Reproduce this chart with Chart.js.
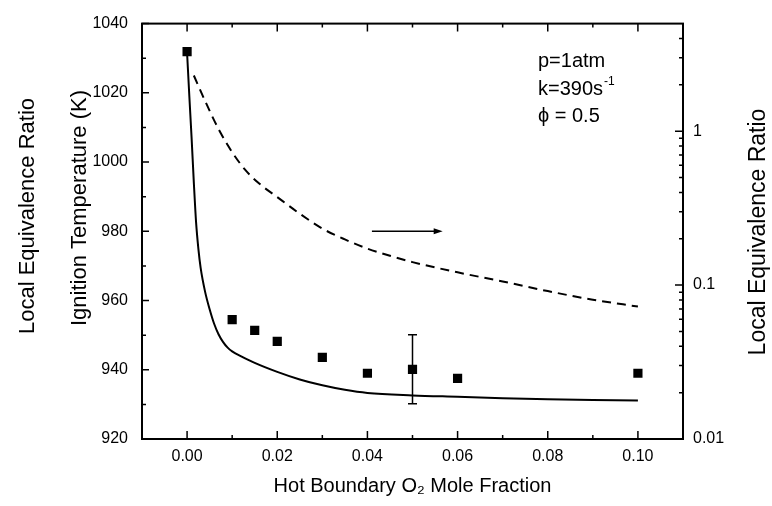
<!DOCTYPE html>
<html><head><meta charset="utf-8">
<script src="https://cdn.jsdelivr.net/npm/chart.js@4"></script>
<style>html,body{margin:0;padding:0;background:#fff}#wrap{width:772px;height:506px}</style>
</head><body><div id="wrap"><canvas id="c" width="772" height="506"></canvas></div>
<script>
// Experimental ignition temperatures (K)
const expX = [0.00, 0.01, 0.015, 0.02, 0.03, 0.04, 0.05, 0.06, 0.10];
const expT = [1031.9, 954.5, 951.4, 948.2, 943.6, 939.0, 940.1, 937.5, 939.0];
// error bar
const errX = [0.05];
const errLow = [930.2];
const errHigh = [950.1];
// computed ignition temperature (solid)
const modelX = [0, 0.0005, 0.001, 0.0015, 0.002, 0.0025, 0.003, 0.004, 0.005, 0.006, 0.007, 0.008, 0.009, 0.010, 0.012, 0.015, 0.02, 0.025, 0.03, 0.035, 0.04, 0.05, 0.06, 0.07, 0.08, 0.09, 0.10];
const modelT = [1031.5, 1019, 1007, 994, 982.5, 975, 969.5, 962.5, 957.5, 953.3, 950.2, 948, 946.4, 945.3, 943.9, 942, 939.4, 937.2, 935.5, 934.2, 933.3, 932.6, 932.2, 931.8, 931.5, 931.3, 931.1];
// local equivalence ratio (dashed, right log axis)
const phiX = [0.0015, 0.004, 0.007, 0.010, 0.013, 0.016, 0.02, 0.025, 0.03, 0.035, 0.04, 0.045, 0.05, 0.06, 0.07, 0.08, 0.09, 0.10];
const phiV = [2.30, 1.57, 1.03, 0.730, 0.556, 0.457, 0.373, 0.291, 0.233, 0.198, 0.1725, 0.155, 0.141, 0.121, 0.1056, 0.0914, 0.0804, 0.0725];
// axis ticks
const xMajor = [0.00, 0.02, 0.04, 0.06, 0.08, 0.10];
const xMinor = [0.01, 0.03, 0.05, 0.07, 0.09];
const yMajor = [920, 940, 960, 980, 1000, 1020, 1040];
const yMinor = [930, 950, 970, 990, 1010, 1030];
const y2Major = [0.01, 0.1, 1];
const y2Minor = [0.02,0.03,0.04,0.05,0.06,0.07,0.08,0.09,0.2,0.3,0.4,0.5,0.6,0.7,0.8,0.9,2,3,4];
// arrow (data coords)
const arrowX = [0.041, 0.0567];
const arrowT = 980;
const notes = ['p=1atm', 'k=390s', '\u03D5 = 0.5'];
const leftOuterTitle = 'Local Equivalence Ratio';
const leftInnerTitle = 'Ignition Temperature (K)';
const rightTitle = 'Local Equivalence Ratio';

const FONT = '"Liberation Sans", Arial, Helvetica, sans-serif';

function vText(ctx, txt, x, y, size) {
  ctx.save();
  ctx.translate(x, y);
  ctx.rotate(-Math.PI / 2);
  ctx.textAlign = 'center'; ctx.textBaseline = 'middle';
  ctx.font = size + 'px ' + FONT;
  ctx.fillText(txt, 0, 0);
  ctx.restore();
}

const deco = {
  id: 'deco',
  afterDatasetsDraw(chart) {
    const {ctx, chartArea: a, scales: {x, y, y2}} = chart;
    ctx.save();
    ctx.strokeStyle = '#000'; ctx.fillStyle = '#000';
    // error bars
    ctx.lineWidth = 1.5;
    errX.forEach((ex, i) => {
      const px = x.getPixelForValue(ex), p1 = y.getPixelForValue(errLow[i]), p2 = y.getPixelForValue(errHigh[i]);
      ctx.beginPath();
      ctx.moveTo(px, p1); ctx.lineTo(px, p2);
      ctx.moveTo(px - 4.5, p1); ctx.lineTo(px + 4.5, p1);
      ctx.moveTo(px - 4.5, p2); ctx.lineTo(px + 4.5, p2);
      ctx.stroke();
    });
    // arrow
    const ax1 = x.getPixelForValue(arrowX[0]), ax2 = x.getPixelForValue(arrowX[1]), ay = y.getPixelForValue(arrowT);
    ctx.lineWidth = 1.5;
    ctx.beginPath(); ctx.moveTo(ax1, ay); ctx.lineTo(ax2 - 6, ay); ctx.stroke();
    ctx.beginPath(); ctx.moveTo(ax2, ay); ctx.lineTo(ax2 - 9, ay - 3); ctx.lineTo(ax2 - 9, ay + 3); ctx.closePath(); ctx.fill();
    // frame
    ctx.lineWidth = 2;
    ctx.strokeRect(a.left, a.top, a.right - a.left, a.bottom - a.top);
    ctx.lineWidth = 1.5;
    ctx.beginPath();
    const tk = (arr, len, fn) => arr.forEach(v => fn(v, len));
    tk(xMajor, 8, (v, l) => { const p = x.getPixelForValue(v); ctx.moveTo(p, a.bottom); ctx.lineTo(p, a.bottom - l); ctx.moveTo(p, a.top); ctx.lineTo(p, a.top + l); });
    tk(xMinor, 4, (v, l) => { const p = x.getPixelForValue(v); ctx.moveTo(p, a.bottom); ctx.lineTo(p, a.bottom - l); ctx.moveTo(p, a.top); ctx.lineTo(p, a.top + l); });
    tk(yMajor, 7, (v, l) => { const p = y.getPixelForValue(v); ctx.moveTo(a.left, p); ctx.lineTo(a.left + l, p); });
    tk(yMinor, 4, (v, l) => { const p = y.getPixelForValue(v); ctx.moveTo(a.left, p); ctx.lineTo(a.left + l, p); });
    tk(y2Major, 8, (v, l) => { const p = y2.getPixelForValue(v); ctx.moveTo(a.right, p); ctx.lineTo(a.right - l, p); });
    tk(y2Minor, 4, (v, l) => { const p = y2.getPixelForValue(v); ctx.moveTo(a.right, p); ctx.lineTo(a.right - l, p); });
    ctx.stroke();
    // annotation
    ctx.font = '20px ' + FONT;
    ctx.textBaseline = 'middle'; ctx.textAlign = 'left';
    const tx = a.left + 396;
    ctx.fillText(notes[0], tx, a.top + 38);
    ctx.fillText(notes[1], tx, a.top + 66);
    const w = ctx.measureText(notes[1]).width;
    ctx.font = '12px ' + FONT;
    ctx.fillText('-1', tx + w + 1, a.top + 58);
    ctx.font = '20px ' + FONT;
    ctx.fillText(notes[2], tx, a.top + 93);
    // axis titles (all read bottom-to-top)
    vText(ctx, leftOuterTitle, 28, 216, 22);
    vText(ctx, leftInnerTitle, 80, 208, 22);
    vText(ctx, rightTitle, 759, 232, 23);
    ctx.restore();
  }
};

new Chart(document.getElementById('c'), {
  type: 'scatter',
  data: {
    datasets: [
      { data: expX.map((v, i) => ({x: v, y: expT[i]})), yAxisID: 'y', pointStyle: 'rect', pointRadius: 6.5, pointHoverRadius: 6.5,
        backgroundColor: '#000', borderColor: '#000', borderWidth: 0, showLine: false },
      { data: modelX.map((v, i) => ({x: v, y: modelT[i]})), yAxisID: 'y', showLine: true, pointRadius: 0, borderColor: '#000',
        borderWidth: 2, cubicInterpolationMode: 'monotone' },
      { data: phiX.map((v, i) => ({x: v, y: phiV[i]})), yAxisID: 'y2', showLine: true, pointRadius: 0, borderColor: '#000',
        borderWidth: 2, borderDash: [9, 6], cubicInterpolationMode: 'monotone' }
    ]
  },
  options: {
    responsive: false, animation: false, devicePixelRatio: 1,
    layout: { padding: { top: 14, left: 0, right: 0, bottom: 0 } },
    plugins: { legend: { display: false }, tooltip: { enabled: false } },
    scales: {
      x: {
        type: 'linear', position: 'bottom', min: -0.01, max: 0.11,
        afterBuildTicks: s => { s.ticks = xMajor.map(v => ({value: v})); },
        afterFit: s => { s.height = 67; },
        grid: { display: false, drawTicks: false }, border: { display: false },
        ticks: { color: '#000', padding: 8, font: { family: FONT, size: 16 }, callback: v => Number(v).toFixed(2), maxRotation: 0 },
        title: { display: true, text: 'Hot Boundary O\u2082 Mole Fraction', color: '#000', font: { family: FONT, size: 20, lineHeight: '22px' }, padding: { top: 0, bottom: 9 } }
      },
      y: {
        type: 'linear', position: 'left', min: 920, max: 1040,
        afterBuildTicks: s => { s.ticks = yMajor.map(v => ({value: v})); },
        afterFit: s => { s.width = 142; },
        grid: { display: false, drawTicks: false }, border: { display: false },
        ticks: { color: '#000', padding: 14, font: { family: FONT, size: 16 }, callback: v => String(v) },
        title: { display: false }
      },
      y2: {
        type: 'logarithmic', position: 'right', min: 0.01, max: 5,
        afterBuildTicks: s => { s.ticks = y2Major.map(v => ({value: v})); },
        afterFit: s => { s.width = 89; },
        grid: { display: false, drawTicks: false }, border: { display: false },
        ticks: { color: '#000', padding: 10, font: { family: FONT, size: 16 }, callback: v => String(v) },
        title: { display: false }
      }
    }
  },
  plugins: [deco]
});
</script></body></html>
